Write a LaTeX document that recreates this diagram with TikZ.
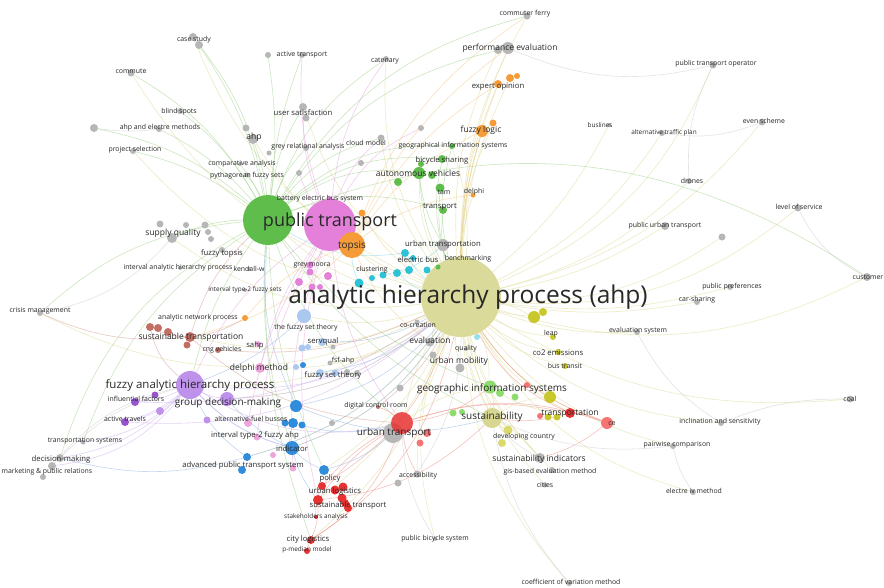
\documentclass[tikz,border=0pt]{standalone}
\usepackage{fontspec}
\setmainfont{Open Sans}
\usetikzlibrary{positioning}
\pgfdeclarelayer{paper}
\pgfdeclarelayer{links}
\pgfsetlayers{paper,links,main}

\definecolor{kgray}{RGB}{182,182,182}
\definecolor{kgreen}{RGB}{95,190,75}
\definecolor{klgreen}{RGB}{140,220,110}
\definecolor{korange}{RGB}{245,155,55}
\definecolor{kpink}{RGB}{228,128,218}
\definecolor{klpink}{RGB}{238,165,220}
\definecolor{kcyan}{RGB}{45,195,215}
\definecolor{klblue}{RGB}{170,200,240}
\definecolor{kblue}{RGB}{50,140,220}
\definecolor{kpurple}{RGB}{190,145,235}
\definecolor{kdpurple}{RGB}{150,85,205}
\definecolor{kbrown}{RGB}{195,110,100}
\definecolor{kred}{RGB}{232,50,50}
\definecolor{klred}{RGB}{245,115,115}
\definecolor{kyellow}{RGB}{200,200,45}
\definecolor{kpale}{RGB}{215,215,145}
\definecolor{ktext}{RGB}{40,40,40}
% link colours
\definecolor{lyel}{RGB}{222,220,150}
\definecolor{lgrn}{RGB}{160,212,140}
\definecolor{lpnk}{RGB}{232,165,222}
\definecolor{lorg}{RGB}{245,200,135}
\definecolor{lred}{RGB}{240,145,135}
\definecolor{lblu}{RGB}{145,182,230}
\definecolor{lpur}{RGB}{205,175,238}
\definecolor{lbrn}{RGB}{212,155,145}
\definecolor{lgry}{RGB}{205,205,205}
\definecolor{lcyn}{RGB}{135,215,228}

\begin{document}
\begin{tikzpicture}[
		x=1pt, y=-1pt,
		bub/.style 2 args={circle, inner sep=0pt, draw=none, fill=#1, minimum size=#2pt},
		lnk/.style={draw=#1, line width=0.6pt, draw opacity=0.55},
		fa/.style={font=\fontsize{6.4}{7}\selectfont, text=ktext, inner sep=0pt},
		fb/.style={font=\fontsize{6.9}{7.5}\selectfont, text=ktext, inner sep=0pt},
		fc/.style={font=\fontsize{7.7}{8.5}\selectfont, text=ktext, inner sep=0pt},
		fd/.style={font=\fontsize{8.5}{9}\selectfont, text=ktext, inner sep=0pt},
		fe/.style={font=\fontsize{10}{11}\selectfont, text=ktext, inner sep=0pt},
		ff/.style={font=\fontsize{18}{19}\selectfont, text=ktext, inner sep=0pt},
		fg/.style={font=\fontsize{24.5}{26}\selectfont, text=ktext, inner sep=0pt}
		]
		\begin{pgfonlayer}{paper}
			\fill[white] (0,0) rectangle (884,587);
		\end{pgfonlayer}
		\useasboundingbox (0,0) rectangle (884,587);
		
		% --- big clusters ---
		\node[bub={kpale}{80}, fill opacity=0.9] (ahp) at (461,297) {};
		\node[bub={kgreen}{50}] (pt) at (268,220) {};
		\node[bub={kpink}{52}] (pk) at (330,225) {};
		\node[bub={korange}{26}] (top) at (352,245) {};
		\node[bub={kpurple}{28}] (fahp) at (190,385) {};
		\node[bub={kgray}{20}] (utg) at (393,433) {};
		\node[bub={kred}{22}, fill opacity=0.85] (utr) at (402,423) {};
		\node[bub={kpale}{20}] (sus) at (492,418) {};
		
		% --- grey keywords ---
		\node[bub={kgray}{7}] (cf) at (527,16) {};
		\node[bub={kgray}{12}] (pe) at (508,48) {};
		\node[bub={kgray}{8}] (pe2) at (498,50) {};
		\node[bub={kgray}{8}] (ps1) at (94,128) {};
		\node[bub={kgray}{6}] (ae) at (159,129) {};
		\node[bub={kgray}{8}] (cs) at (193,37) {};
		\node[bub={kgray}{8}] (cs2) at (199,45) {};
		\node[bub={kgray}{7}] (cm) at (131,73) {};
		\node[bub={kgray}{6}] (bs) at (180,111) {};
		\node[bub={kgray}{6}] (psel) at (133,151) {};
		\node[bub={kgray}{6}] (actr0) at (268,55) {};
		\node[bub={kgray}{6}] (actr) at (302,55) {};
		\node[bub={kgray}{6}] (cat) at (386,59) {};
		\node[bub={kgray}{8}] (us) at (303,107) {};
		\node[bub={kgray}{7}] (us2) at (306,118) {};
		\node[bub={kgray}{10}] (ahpk) at (253,139) {};
		\node[bub={kgray}{7}] (ahpk2) at (246,128) {};
		\node[bub={kgray}{6}] (gra) at (306,148) {};
		\node[bub={kgray}{5}] (g1) at (269,153) {};
		\node[bub={kgray}{7}] (cld) at (381,138) {};
		\node[bub={kgray}{6}] (g2) at (421,128) {};
		\node[bub={kgray}{6}] (g3) at (361,163) {};
		\node[bub={kgray}{6}] (g4) at (299,173) {};
		\node[bub={kgray}{4}] (ca) at (240,164) {};
		\node[bub={kgray}{5}] (pfs) at (247,175) {};
		\node[bub={kgray}{10}] (sq) at (172,238) {};
		\node[bub={kgray}{7}] (sq1) at (160,224) {};
		\node[bub={kgray}{6}] (sq2) at (186,225) {};
		\node[bub={kgray}{7}] (sq3) at (205,225) {};
		\node[bub={kgray}{6}] (sq4) at (208,232) {};
		\node[bub={kgray}{6}] (sq5) at (211,239) {};
		\node[bub={kgray}{6}] (ft) at (222,250) {};
		\node[bub={kgray}{4}] (iahp) at (180,268) {};
		\node[bub={kgray}{4}] (kw) at (249,269) {};
		\node[bub={kgray}{4}] (it2) at (245,290) {};
		\node[bub={kgray}{6}] (cri) at (40,313) {};
		\node[bub={kgray}{12}] (utn) at (443,245) {};
		\node[bub={kgray}{5}] (cc) at (417,322) {};
		\node[bub={kgray}{9}] (ev) at (430,342) {};
		\node[bub={kgray}{7}] (ev2) at (433,355) {};
		\node[bub={kgray}{9}] (um) at (460,368) {};
		\node[bub={kgray}{4}] (qu) at (466,349) {};
		\node[bub={kgray}{5}] (fsa) at (330,363) {};
		\node[bub={kgray}{6}] (fst2) at (347,372) {};
		\node[bub={kgray}{6}] (fst3) at (357,373) {};
		\node[bub={kgray}{5}] (sv2) at (333,347) {};
		\node[bub={kgray}{6}] (evs) at (637,332) {};
		\node[bub={kgray}{8}] (pub) at (665,226) {};
		\node[bub={kgray}{7}] (g5) at (722,237) {};
		\node[bub={kgray}{7}] (los) at (798,208) {};
		\node[bub={kgray}{8}] (cus) at (867,277) {};
		\node[bub={kgray}{6}] (pp) at (730,287) {};
		\node[bub={kgray}{6}] (csh) at (697,302) {};
		\node[bub={kgray}{6}] (dr) at (689,181) {};
		\node[bub={kgray}{6}] (atp) at (662,133) {};
		\node[bub={kgray}{4}] (bl) at (609,125) {};
		\node[bub={kgray}{7}] (es) at (762,122) {};
		\node[bub={kgray}{7}] (pto) at (713,65) {};
		\node[bub={kgray}{10}] (si) at (540,458) {};
		\node[bub={kgray}{6}] (gis2) at (552,470) {};
		\node[bub={kgray}{5}] (cit) at (545,485) {};
		\node[bub={kgray}{6}] (pc) at (673,446) {};
		\node[bub={kgray}{6}] (el) at (693,492) {};
		\node[bub={kgray}{6}] (cov) at (569,583) {};
		\node[bub={kgray}{7}] (coal) at (850,399) {};
		\node[bub={kgray}{6}] (ins) at (721,423) {};
		\node[bub={kgray}{7}] (acc) at (417,474) {};
		\node[bub={kgray}{7}] (acc2) at (398,483) {};
		\node[bub={kgray}{4}] (pbs) at (435,539) {};
		\node[bub={kgray}{7}] (g6) at (400,388) {};
		\node[bub={kgray}{6}] (g7) at (332,423) {};
		\node[bub={kgray}{5}] (ts) at (83,442) {};
		\node[bub={kgray}{8}] (dm) at (60,458) {};
		\node[bub={kgray}{8}] (mpr) at (52,466) {};
		\node[bub={kgray}{6}] (mpr2) at (43,477) {};
		
		% --- green ---
		\node[bub={kgreen}{6}] (gis) at (452,146) {};
		\node[bub={kgreen}{8}] (bsh) at (442,159) {};
		\node[bub={kgreen}{6}] (bsh2) at (421,164) {};
		\node[bub={kgreen}{12}] (av) at (419,173) {};
		\node[bub={kgreen}{8}] (av2) at (398,182) {};
		\node[bub={kgreen}{8}] (av3) at (432,175) {};
		\node[bub={kgreen}{9}] (tam) at (440,188) {};
		\node[bub={kgreen}{8}] (tr) at (443,210) {};
		\node[bub={kgreen}{5}] (gs) at (438,267) {};
		\node[bub={klgreen}{13}] (geo) at (490,387) {};
		\node[bub={klgreen}{8}] (geo2) at (500,393) {};
		\node[bub={klgreen}{7}] (geo3) at (515,397) {};
		\node[bub={klgreen}{7}] (geo4) at (453,413) {};
		\node[bub={klgreen}{6}] (geo5) at (462,412) {};
		
		% --- orange ---
		\node[bub={korange}{8}] (eo) at (498,84) {};
		\node[bub={korange}{8}] (eo2) at (510,78) {};
		\node[bub={korange}{6}] (eo3) at (517,76) {};
		\node[bub={korange}{12}] (fl) at (482,131) {};
		\node[bub={korange}{7}] (fl2) at (493,123) {};
		\node[bub={korange}{5}] (dl) at (473,195) {};
		\node[bub={korange}{7}] (or1) at (362,213) {};
		\node[bub={korange}{6}] (anp) at (245,318) {};
		
		% --- pink ---
		\node[bub={kpink}{5}] (bebs) at (330,199) {};
		\node[bub={kpink}{7}] (gm) at (310,265) {};
		\node[bub={kpink}{7}] (pk1) at (310,272) {};
		\node[bub={kpink}{8}] (pk2) at (328,276) {};
		\node[bub={kpink}{8}] (pk3) at (299,282) {};
		\node[bub={kpink}{7}] (pk4) at (312,287) {};
		\node[bub={kpink}{6}] (pk5) at (320,287) {};
		\node[bub={klpink}{6}] (sahp) at (258,344) {};
		\node[bub={klpink}{10}] (dme) at (260,368) {};
		\node[bub={klpink}{8}] (afb) at (248,423) {};
		\node[bub={klpink}{7}] (it2a) at (257,437) {};
		\node[bub={klpink}{6}] (lp1) at (273,455) {};
		\node[bub={klpink}{7}] (lp2) at (293,468) {};
		
		% --- cyan ---
		\node[bub={kcyan}{8}] (eb) at (405,253) {};
		\node[bub={kcyan}{6}] (eb2) at (413,258) {};
		\node[bub={kcyan}{8}] (eb3) at (409,270) {};
		\node[bub={kcyan}{7}] (eb4) at (427,270) {};
		\node[bub={kcyan}{8}] (clu) at (397,273) {};
		\node[bub={kcyan}{7}] (cy1) at (383,275) {};
		\node[bub={kcyan}{6}] (cy2) at (372,278) {};
		\node[bub={kcyan}{9}] (cy3) at (359,283) {};
		\node[bub={kcyan!50}{6}] (cy4) at (477,337) {};
		
		% --- blue ---
		\node[bub={klblue}{14}] (tfs) at (304,316) {};
		\node[bub={klblue}{8}] (sv) at (322,342) {};
		\node[bub={klblue}{7}] (sv3) at (302,348) {};
		\node[bub={klblue}{6}] (sv4) at (308,347) {};
		\node[bub={klblue}{8}] (fst) at (320,373) {};
		\node[bub={klblue}{7}] (fst1) at (335,373) {};
		\node[bub={klblue}{6}] (lb1) at (296,367) {};
		\node[bub={kblue}{6}] (bl1) at (303,365) {};
		\node[bub={kblue}{12}] (bu1) at (296,406) {};
		\node[bub={kblue}{10}] (bu2) at (293,423) {};
		\node[bub={kblue}{7}] (bu3) at (285,423) {};
		\node[bub={kblue}{7}] (bu4) at (302,425) {};
		\node[bub={kblue}{14}] (ind) at (292,448) {};
		\node[bub={kblue}{8}] (apts) at (247,457) {};
		\node[bub={kblue}{8}] (apts2) at (242,470) {};
		\node[bub={kblue}{10}] (pol) at (324,470) {};
		
		% --- purple ---
		\node[bub={kpurple}{14}] (gdm) at (227,399) {};
		\node[bub={kdpurple}{8}] (inf) at (135,402) {};
		\node[bub={kdpurple}{7}] (inf2) at (155,395) {};
		\node[bub={kdpurple}{8}] (atv) at (125,422) {};
		\node[bub={kpurple}{8}] (atv2) at (160,411) {};
		\node[bub={kpurple}{7}] (lpu) at (207,420) {};
		
		% --- brown ---
		\node[bub={kbrown}{10}] (st) at (190,337) {};
		\node[bub={kbrown}{8}] (br1) at (150,327) {};
		\node[bub={kbrown}{8}] (br2) at (158,328) {};
		\node[bub={kbrown}{8}] (br3) at (168,332) {};
		\node[bub={kbrown}{7}] (br4) at (187,345) {};
		\node[bub={kbrown}{6}] (cng) at (218,350) {};
		\node[bub={kbrown}{4}] (dcr) at (378,407) {};
		
		% --- red ---
		\node[bub={klred}{8}] (rp1) at (427,433) {};
		\node[bub={klred}{7}] (rp2) at (420,443) {};
		\node[bub={kred}{8}] (ul) at (322,486) {};
		\node[bub={kred}{9}] (ul2) at (335,490) {};
		\node[bub={kred}{9}] (ul3) at (343,487) {};
		\node[bub={kred}{10}] (stp) at (318,500) {};
		\node[bub={kred}{9}] (stp2) at (342,498) {};
		\node[bub={kred}{8}] (stp3) at (345,503) {};
		\node[bub={kred}{8}] (stp4) at (348,508) {};
		\node[bub={kred}{4}] (sa) at (316,517) {};
		\node[bub={kred}{8}] (cl) at (311,540) {};
		\node[bub={kred}{6}] (pm) at (307,551) {};
		\node[bub={kred}{10}] (trn) at (570,413) {};
		\node[bub={klred}{6}] (trn2) at (540,416) {};
		\node[bub={klred}{12}] (ce) at (607,423) {};
		\node[bub={klred}{6}] (r1) at (527,385) {};
		
		% --- yellow ---
		\node[bub={kyellow}{12}] (y1) at (534,317) {};
		\node[bub={kyellow}{8}] (y2) at (543,312) {};
		\node[bub={kyellow}{6}] (lp) at (553,337) {};
		\node[bub={kyellow}{6}] (co2) at (558,352) {};
		\node[bub={kyellow}{6}] (bt) at (565,366) {};
		\node[bub={kyellow}{12}] (y3) at (550,397) {};
		\node[bub={kyellow}{7}] (y4) at (548,417) {};
		\node[bub={kyellow}{7}] (y5) at (557,417) {};
		\node[bub={kyellow!70}{9}] (dc) at (508,430) {};
		\node[bub={kyellow!70}{8}] (dc2) at (502,443) {};
		
		% --- links (curvature scaled) ---
		\begin{pgfonlayer}{links}
			\foreach \a/\b/\c in {ahp/cf/8, ahp/pe/6, ahp/eo/5, ahp/fl/4, ahp/pto/-12, ahp/es/-10, ahp/atp/-8,
				ahp/bl/-6, ahp/dr/-8, ahp/pub/-6, ahp/los/-12, ahp/cus/-12, ahp/pp/-6, ahp/csh/-5, ahp/evs/-6,
				ahp/coal/-10, ahp/ins/-10, ahp/pc/-10, ahp/el/-12, ahp/cov/-10, ahp/pbs/-10, ahp/si/-8, ahp/sus/-5,
				ahp/trn/-8, ahp/ce/-10, ahp/um/-4, ahp/ev/-4, ahp/utr/-6, ahp/dc/-6, ahp/y1/-3, ahp/lp/-6,
				ahp/co2/-8, ahp/bt/-8, ahp/pk/8, ahp/pt/10, ahp/fahp/10, ahp/st/10, ahp/sq/12, ahp/cri/15,
				ahp/dme/10, ahp/gdm/10, ahp/ind/10, ahp/apts/10, ahp/stp/8, ahp/cl/8, ahp/pol/8, ahp/cld/8,
				ahp/cat/10, ahp/us/10, ahp/av/8, ahp/cs/12, ahp/ahpk/10, ahp/gs/4, ahp/utn/4, ahp/dl/4,
				ahp/fsa/8, ahp/tfs/8, ahp/acc/-6, ahp/gis2/-8, ahp/cit/-8, ahp/y3/-6, ahp/g5/-10, ahp/eo2/6,
				ahp/pe2/8, ahp/fl2/6, ahp/gis/-6, ahp/cm/12, ahp/psel/12}
			{\pgfmathsetmacro\bb{1.8*\c}
			\draw[lnk=lyel] (\a) to[bend left=\bb] (\b);}
			\foreach \a/\b/\c in {pt/cs/-8, pt/cs2/-6, pt/cm/-8, pt/bs/-6, pt/ae/-6, pt/ps1/-8, pt/psel/-6,
				pt/actr0/-4, pt/actr/4, pt/us/6, pt/ahpk/-4, pt/cat/10, pt/cld/10, pt/av/12, pt/bsh/12, pt/tr/10,
				pt/gis/12, pt/sq/-6, pt/cri/-10, pt/fahp/-6, pt/ts/-10, pt/dm/-12, pt/ind/-6, pt/pol/-6,
				pt/cl/-6, pt/utr/-8, pt/sus/-8, pt/geo/-8, pt/pe/12, pt/cf/12, pt/cus/15, pt/ca/-4, pt/pfs/-4,
				pt/gra/6, av/ahp/-6, tr/ahp/-6, bsh/ahp/-8, gis/ahp/-8, tam/ahp/-6, av/utn/-6}
			{\pgfmathsetmacro\bb{1.8*\c}
			\draw[lnk=lgrn] (\a) to[bend left=\bb] (\b);}
			\foreach \a/\b/\c in {pk/us/6, pk/cat/8, pk/g4/4, pk/gm/6, pk/utr/-8, pk/stp/-8, pk/dme/-6,
				pk/afb/-6, pk/it2a/-6, pk/cld/8, pk/bebs/4, pk/g2/10, pk/actr/6, pk/lp2/-6, pk/fahp/-8}
			{\pgfmathsetmacro\bb{1.8*\c}
			\draw[lnk=lpnk] (\a) to[bend left=\bb] (\b);}
			\foreach \a/\b/\c in {fl/top/-8, eo/top/-8, pe/top/-8, cf/top/-10, dl/top/-8, anp/top/8,
				top/ev/-8, eo/ahp/-6, fl/ahp/-4, or1/ahp/-8, top/st/8}
			{\pgfmathsetmacro\bb{1.8*\c}
			\draw[lnk=lorg] (\a) to[bend left=\bb] (\b);}
			\foreach \a/\b/\c in {eb/ahp/-6, clu/ahp/-6, cy3/top/6, eb/pt/10, cy1/utn/-8}
			{\pgfmathsetmacro\bb{1.8*\c}
			\draw[lnk=lcyn] (\a) to[bend left=\bb] (\b);}
			\foreach \a/\b/\c in {tfs/fahp/6, sv/ahp/-8, fst/ahp/-8, ind/ahp/-10, ind/fahp/8, bu1/ahp/-10,
				bu1/pt/8, apts/fahp/8, apts/ahp/-10, pol/utr/-8, pol/ind/6, ind/gdm/6, bu2/utr/-8, apts/dm/8,
				ind/stp/-6, bu1/sus/-10}
			{\pgfmathsetmacro\bb{1.8*\c}
			\draw[lnk=lblu] (\a) to[bend left=\bb] (\b);}
			\foreach \a/\b/\c in {fahp/inf/6, fahp/atv/8, fahp/ts/10, fahp/dm/10, fahp/mpr/12, fahp/gdm/-6,
				gdm/ahp/-10, fahp/ahp/-12, atv/ahp/-12, inf/ahp/-10, fahp/ind/-8, fahp/utr/-12, atv/fahp/-6}
			{\pgfmathsetmacro\bb{1.8*\c}
			\draw[lnk=lpur] (\a) to[bend left=\bb] (\b);}
			\foreach \a/\b/\c in {st/br1/6, st/pt/8, st/cri/8, br1/fahp/-10, cng/ahp/-8, st/anp/-6,
				st/utr/-10, dcr/ahp/-6}
			{\pgfmathsetmacro\bb{1.8*\c}
			\draw[lnk=lbrn] (\a) to[bend left=\bb] (\b);}
			\foreach \a/\b/\c in {utr/stp/-6, utr/ul/-6, utr/trn/8, utr/ce/10, trn/ce/6, cl/utr/-10,
				cl/stp/-6, stp/pol/6, utr/acc/-6, utr/dcr/-6, ul/ahp/-10, stp/sus/-10, trn/sus/6,
				ce/ahp/10, cl/ahp/-12, pm/cl/6, sa/stp/6, utr/geo/-8, ce/si/6, trn/ahp/10}
			{\pgfmathsetmacro\bb{1.8*\c}
			\draw[lnk=lred] (\a) to[bend left=\bb] (\b);}
			\foreach \a/\b/\c in {cov/sus/8, si/sus/6, pbs/utr/8, acc/ahp/-8, dm/fahp/8, mpr/fahp/10,
				los/cus/-10, es/atp/8, pto/dr/-8, cri/sq/-10, ae/ps1/4, pto/pe/10, evs/ins/-8, coal/ins/-6,
				el/pc/6, pc/sus/8}
			{\pgfmathsetmacro\bb{1.8*\c}
			\draw[lnk=lgry] (\a) to[bend left=\bb] (\b);}
			\foreach \a/\b/\c in {geo/ahp/-6, geo/sus/6, geo/utr/-8, geo/trn/-8, sus/ahp/6, y1/ahp/-4,
				dc/sus/6, sus/si/6, y3/sus/-8}
			{\pgfmathsetmacro\bb{1.8*\c}
			\draw[lnk=lyel] (\a) to[bend left=\bb] (\b);}
		\end{pgfonlayer}
		
		% --- labels ---
		\node[fb] (l-cf) at (525,14) {commuter ferry};
		\node[fd] (l-pe) at (510,48) {performance evaluation};
		\node[fc] (l-eo) at (498,87) {expert opinion};
		\node[fd] (l-fl) at (481,130) {fuzzy logic};
		\node[fb] (l-gis) at (453,146) {geographical information systems};
		\node[fc] (l-bsh) at (442,160) {bicycle sharing};
		\node[fd] (l-av) at (418,173) {autonomous vehicles};
		\node[fb] (l-tam) at (444,192) {tam};
		\node[fb] (l-dl) at (474,192) {delphi};
		\node[fc] (l-tr) at (440,207) {transport};
		\node[fb] (l-cld) at (366,143) {cloud model};
		\node[fb] (l-gra) at (308,147) {grey relational analysis};
		\node[fc] (l-us) at (303,113) {user satisfaction};
		\node[fd] (l-ahpk) at (254,137) {ahp};
		\node[fb] (l-actr) at (302,55) {active transport};
		\node[fb] (l-cat) at (385,61) {catenary};
		\node[fb] (l-cs) at (194,40) {case study};
		\node[fb] (l-cm) at (131,71) {commute};
		\node[fb] (l-bs) at (179,112) {blind spots};
		\node[fb] (l-ae) at (160,128) {ahp and electre methods};
		\node[fb] (l-psel) at (135,150) {project selection};
		\node[fb] (l-ca) at (242,164) {comparative analysis};
		\node[fb] (l-pfs) at (247,176) {pythagorean fuzzy sets};
		\node[fb] (l-bebs) at (320,199) {battery electric bus system};
		\node[ff] (l-pt) at (330,222) {public transport};
		\node[fe] (l-top) at (352,246) {topsis};
		\node[fc] (l-utn) at (443,244) {urban transportation};
		\node[fb] (l-bm) at (468,259) {benchmarking};
		\node[fc] (l-eb) at (418,260) {electric bus};
		\node[fb] (l-clu) at (372,270) {clustering};
		\node[fb] (l-gm) at (312,265) {grey moora};
		\node[fb] (l-kw) at (249,269) {kendall-w};
		\node[fc] (l-ft) at (222,253) {fuzzy topsis};
		\node[fb] (l-iahp) at (178,268) {interval analytic hierarchy process};
		\node[fa] (l-it2) at (245,290) {interval type-2 fuzzy sets};
		\node[fd] (l-sq) at (173,233) {supply quality};
		\node[fb] (l-cri) at (40,311) {crisis management};
		\node[fb] (l-anp) at (198,318) {analytic network process};
		\node[fd] (l-st) at (191,337) {sustainable transportation};
		\node[fb] (l-cng) at (222,350) {cng vehicles};
		\node[fb] (l-tfs) at (306,328) {the fuzzy set theory};
		\node[fc] (l-sahp) at (255,345) {sahp};
		\node[fc] (l-sv) at (323,341) {servqual};
		\node[fd] (l-dme) at (259,368) {delphi method};
		\node[fb] (l-fsa) at (343,361) {fsf-ahp};
		\node[fc] (l-fst) at (333,375) {fuzzy set theory};
		\node[fg] (l-ahp) at (468,297) {analytic hierarchy process (ahp)};
		\node[fb] (l-cc) at (418,325) {co-creation};
		\node[fd] (l-ev) at (430,340) {evaluation};
		\node[fb] (l-qu) at (466,349) {quality};
		\node[fd] (l-um) at (459,361) {urban mobility};
		\node[fb] (l-lp) at (551,334) {leap};
		\node[fc] (l-co2) at (558,353) {co2 emissions};
		\node[fb] (l-bt) at (565,366) {bus transit};
		\node[fb] (l-evs) at (638,331) {evaluation system};
		\node[fb] (l-pub) at (665,226) {public urban transport};
		\node[fb] (l-los) at (799,207) {level of service};
		\node[fb] (l-cus) at (868,277) {customer};
		\node[fb] (l-pp) at (732,287) {public preferences};
		\node[fb] (l-csh) at (697,300) {car-sharing};
		\node[fb] (l-dr) at (692,181) {drones};
		\node[fa] (l-atp) at (664,133) {alternative traffic plan};
		\node[fa] (l-bl) at (600,125) {buslines};
		\node[fb] (l-es) at (764,121) {even scheme};
		\node[fb] (l-pto) at (716,64) {public transport operator};
		\node[fe] (l-geo) at (492,389) {geographic information systems};
		\node[fe] (l-sus) at (492,417) {sustainability};
		\node[fd] (l-trn) at (570,413) {transportation};
		\node[fb] (l-ce) at (612,424) {ce};
		\node[fb] (l-dc) at (524,437) {developing country};
		\node[fd] (l-si) at (539,459) {sustainability indicators};
		\node[fb] (l-gis2) at (550,472) {gis-based evaluation method};
		\node[fb] (l-cit) at (545,485) {cities};
		\node[fb] (l-ins) at (720,422) {inclination and sensitivity};
		\node[fb] (l-coal) at (850,399) {coal};
		\node[fb] (l-pc) at (677,445) {pairwise comparison};
		\node[fb] (l-el) at (694,491) {electre iv method};
		\node[fb] (l-cov) at (571,582) {coefficient of variation method};
		\node[fb] (l-pbs) at (435,539) {public bicycle system};
		\node[fb] (l-acc) at (418,476) {accessibility};
		\node[fe] (l-utr) at (394,433) {urban transport};
		\node[fb] (l-dcr) at (376,406) {digital control room};
		\node[fc] (l-pol) at (330,478) {policy};
		\node[fc] (l-ul) at (335,491) {urban logistics};
		\node[fc] (l-stp) at (348,505) {sustainable transport};
		\node[fa] (l-sa) at (316,517) {stakeholders analysis};
		\node[fc] (l-cl) at (308,539) {city logistics};
		\node[fa] (l-pm) at (307,550) {p-median model};
		\node[fc] (l-ind) at (292,449) {indicator};
		\node[fc] (l-apts) at (243,465) {advanced public transport system};
		\node[fc] (l-it2a) at (255,435) {interval type-2 fuzzy ahp};
		\node[fb] (l-afb) at (251,419) {alternative-fuel busses};
		\node[fe] (l-gdm) at (228,403) {group decision-making};
		\node[fe, font=\fontsize{11.5}{12}\selectfont] (l-fahp) at (190,385) {fuzzy analytic hierarchy process};
		\node[fb] (l-inf) at (136,399) {influential factors};
		\node[fb] (l-atv) at (125,419) {active travels};
		\node[fb] (l-ts) at (85,441) {transportation systems};
		\node[fc] (l-dm) at (61,459) {decision-making};
		\node[fb] (l-mpr) at (47,472) {marketing \& public relations};
		
	\end{tikzpicture}
\end{document}
